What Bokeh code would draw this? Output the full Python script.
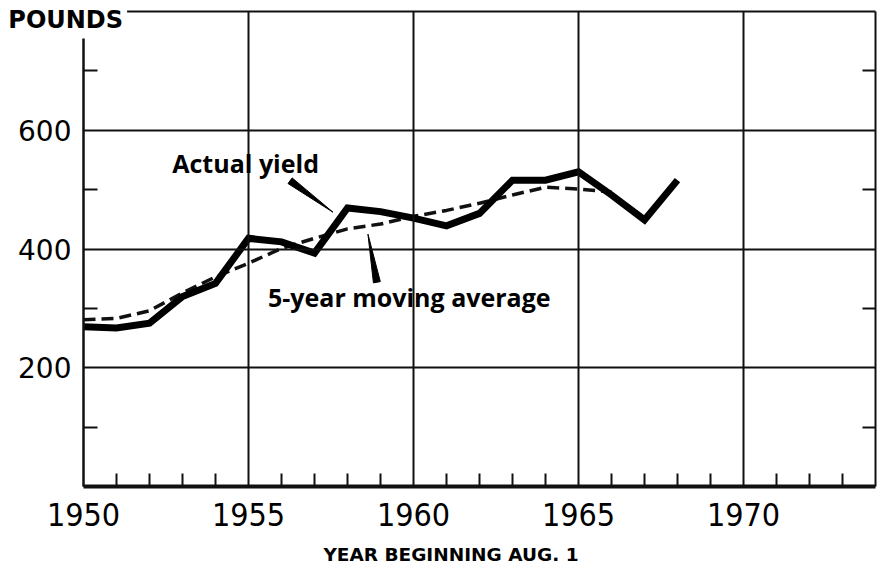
import numpy as np
from bokeh.plotting import figure
from bokeh.models import Range1d, FixedTicker, LinearAxis, Label
from bokeh.embed import file_html
from bokeh.resources import INLINE

# ---- data ----
years = list(range(1950, 1969))
actual_yield = [269, 267, 275, 320, 342, 418, 412, 393, 469, 463, 452, 439,
                460, 516, 516, 530, 491, 449, 516]
ma_years = list(range(1950, 1967))
moving_avg = [281, 283, 296, 326, 353, 376, 401, 418, 434, 442, 455, 465,
              477, 491, 504, 501, 496]

x_major = [1950, 1955, 1960, 1965, 1970]
x_minor = [y for y in range(1951, 1974) if y % 5 != 0]
y_major = [200, 400, 600]
y_minor = [100, 300, 500, 700]

X0, X1 = 1950, 1974
Y0, Y1 = 0, 800

# annotation anchor points (data units)
lbl_actual = (1952.69, 545)
lbl_ma = (1955.59, 319)
ptr_actual = ((1956.26, 515), (1957.56, 462))
ptr_ma = ((1958.89, 344), (1958.62, 425))
lbl_pounds = (1947.6, 785)
lbl_xtitle = (1957.27, -114)

# canvas and chart-box geometry (pixels)
W, H = 881, 564
PX_L, PX_R, PX_T, PX_B = 83, 875, 11, 486
sx = (PX_R - PX_L) / (X1 - X0)
sy = (PX_B - PX_T) / (Y1 - Y0)

INK = "#111111"

p = figure(width=W, height=H, output_backend="svg", toolbar_location=None,
           x_range=Range1d(X0 - PX_L / sx, X1 + (W - PX_R) / sx),
           y_range=Range1d(Y0 - (H - PX_B) / sy, Y1 + PX_T / sy),
           min_border_left=0, min_border_right=0, min_border_top=0,
           min_border_bottom=0, x_axis_location=None, y_axis_location=None)
p.outline_line_color = None
p.background_fill_color = "white"
p.border_fill_color = "white"
p.grid.visible = False

# bottom axis (its long major ticks form the vertical grid lines)
xb = LinearAxis(ticker=FixedTicker(ticks=x_major, minor_ticks=x_minor),
                fixed_location=Y0, bounds=(X0, X1))
xb.axis_line_width = 4
xb.axis_line_color = INK
xb.major_tick_in = PX_B - PX_T
xb.major_tick_out = 0
xb.major_tick_line_width = 2
xb.major_tick_line_color = INK
xb.minor_tick_in = 13
xb.minor_tick_out = 0
xb.minor_tick_line_width = 2
xb.minor_tick_line_color = INK
xb.major_label_text_font = "'DejaVu Sans Condensed', 'Liberation Sans'"
xb.major_label_text_font_size = "32px"
xb.major_label_text_color = "black"
xb.major_label_standoff = 16
p.add_layout(xb, "below")

# left axis (its long major ticks form the horizontal grid lines)
yl = LinearAxis(ticker=FixedTicker(ticks=y_major, minor_ticks=y_minor),
                fixed_location=X0, bounds=(Y0, Y1))
yl.axis_line_width = 2
yl.axis_line_color = INK
yl.major_tick_in = PX_R - PX_L
yl.major_tick_out = 0
yl.major_tick_line_width = 2
yl.major_tick_line_color = INK
yl.minor_tick_in = 14
yl.minor_tick_out = 0
yl.minor_tick_line_width = 2
yl.minor_tick_line_color = INK
yl.major_label_text_font = "DejaVu Sans"
yl.major_label_text_font_size = "28px"
yl.major_label_text_color = "black"
yl.major_label_standoff = 12
p.add_layout(yl, "left")

# right axis (minor ticks only)
yr = LinearAxis(ticker=FixedTicker(ticks=[], minor_ticks=y_minor),
                fixed_location=X1, bounds=(Y0, Y1))
yr.axis_line_width = 2
yr.axis_line_color = INK
yr.major_tick_in = 0
yr.major_tick_out = 0
yr.minor_tick_in = 13
yr.minor_tick_out = 0
yr.minor_tick_line_width = 2
yr.minor_tick_line_color = INK
p.add_layout(yr, "right")

# top border
xt = LinearAxis(ticker=FixedTicker(ticks=[]), fixed_location=Y1,
                bounds=(X0, X1))
xt.axis_line_width = 2
xt.axis_line_color = INK
xt.major_tick_in = 0
xt.major_tick_out = 0
p.add_layout(xt, "above")

# series
p.line(ma_years, moving_avg, line_color=INK, line_width=3.5, line_dash="12 6")
p.line(years, actual_yield, line_color="black", line_width=7, line_join="miter")


def wedge(thick, tip, width_px):
    (xa, ya), (xb_, yb) = thick, tip
    pxa, pya, pxb, pyb = xa * sx, ya * sy, xb_ * sx, yb * sy
    dx, dy = pxb - pxa, pyb - pya
    n = np.hypot(dx, dy)
    nx, ny = -dy / n * width_px / 2, dx / n * width_px / 2
    xs = [(pxa + nx) / sx, (pxa - nx) / sx, pxb / sx]
    ys = [(pya + ny) / sy, (pya - ny) / sy, pyb / sy]
    return xs, ys


for thick, tip in (ptr_actual, ptr_ma):
    wx, wy = wedge(thick, tip, 7)
    p.patch(wx, wy, fill_color="black", line_color="black", line_width=1)

p.add_layout(Label(x=lbl_actual[0], y=lbl_actual[1], text="Actual yield",
                   text_font="Open Sans", text_font_style="bold",
                   text_font_size="25px", text_color="black",
                   text_align="left", text_baseline="alphabetic"))
p.add_layout(Label(x=lbl_ma[0], y=lbl_ma[1], text="5-year moving average",
                   text_font="Open Sans", text_font_style="bold",
                   text_font_size="25px", text_color="black",
                   text_align="left", text_baseline="alphabetic"))

# x axis title
p.add_layout(Label(x=lbl_xtitle[0], y=lbl_xtitle[1],
                   text="YEAR BEGINNING AUG. 1",
                   text_font="DejaVu Sans", text_font_style="bold",
                   text_font_size="18.5px", text_color="black",
                   text_align="left", text_baseline="alphabetic"))

# y axis title, masking the corner of the frame
p.add_layout(Label(x=lbl_pounds[0], y=lbl_pounds[1], text="POUNDS",
                   text_font="DejaVu Sans", text_font_style="bold",
                   text_font_size="24px", text_color="black",
                   text_align="left", text_baseline="middle",
                   background_fill_color="white", padding=4))

open("out.html", "w").write(file_html(p, INLINE))
